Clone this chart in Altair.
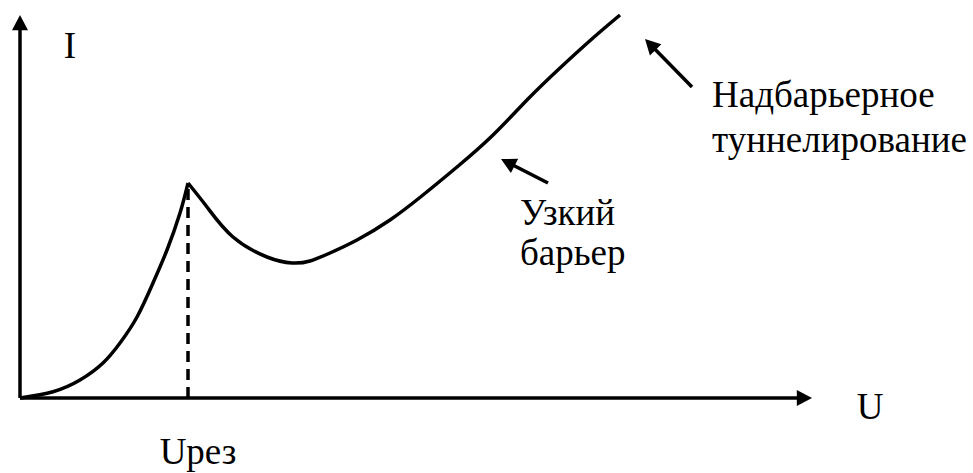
import math
import altair as alt
import pandas as pd

# Current–voltage characteristic (arbitrary units)
rise_u = [0.0, 0.33, 0.6, 0.83, 1.0, 1.17, 1.33, 1.47, 1.6, 1.68]
rise_i = [0.0, 0.063, 0.18, 0.35, 0.55, 0.81, 1.15, 1.48, 1.85, 2.15]
tail_u = [1.68, 1.87, 2.13, 2.47, 2.72, 2.9, 3.1, 3.37, 3.7, 4.03, 4.37, 4.72, 5.07, 5.4, 5.73, 6.0]
tail_i = [2.15, 1.91, 1.61, 1.41, 1.35, 1.37, 1.45, 1.58, 1.78, 2.03, 2.31, 2.62, 2.98, 3.3, 3.6, 3.83]

u_cut = 1.68          # Uрез
i_cut = 2.15

# Axis extents (arrow tips)
u_axis_end = 7.92
i_axis_end = 3.83

# Callout arrows: (tail_u, tail_i, tip_u, tip_i)
callouts = [
    (6.72, 3.11, 6.25, 3.59),   # надбарьерное туннелирование
    (5.28, 2.15, 4.81, 2.39),   # узкий барьер
]

# Text labels
label_text = ["I", "U", "Uрез", "Надбарьерное", "туннелирование", "Узкий", "барьер"]
label_u = [0.5, 8.5, 1.78, 6.92, 6.92, 5.0, 5.0]
label_i = [3.4, -0.21, -0.66, 2.91, 2.46, 1.73, 1.33]
label_align = ["center", "center", "center", "left", "left", "left", "left"]

FONT = "Times New Roman, Liberation Serif, serif"
X_DOMAIN = [-0.2, 9.53]
Y_DOMAIN = [-0.75, 3.98]

xs = alt.Scale(domain=X_DOMAIN, nice=False, zero=False)
ys = alt.Scale(domain=Y_DOMAIN, nice=False, zero=False)

curve = pd.DataFrame(
    {"u": rise_u + tail_u,
     "i": rise_i + tail_i,
     "branch": ["rise"] * len(rise_u) + ["tail"] * len(tail_u)}
)

# Arrows: axes plus callouts
arrows = [(0.0, 0.0, u_axis_end, 0.0), (0.0, 0.0, 0.0, i_axis_end)] + callouts
head_len = 0.14
seg_rows, head_rows = [], []
for tu, ti, hu, hi in arrows:
    du, di = hu - tu, hi - ti
    length = math.hypot(du, di)
    # stop the shaft under the arrowhead so the tip stays sharp
    eu = hu - du / length * head_len * 0.6
    ei = hi - di / length * head_len * 0.6
    seg_rows.append({"u": tu, "i": ti, "u2": eu, "i2": ei})
    head_rows.append({"u": hu, "i": hi, "angle": (math.degrees(math.atan2(du, di)) + 360) % 360})
segs = pd.DataFrame(seg_rows)
heads = pd.DataFrame(head_rows)

labels = pd.DataFrame({"text": label_text, "u": label_u, "i": label_i, "align": label_align})

line = alt.Chart(curve).mark_line(
    interpolate="natural", color="black", strokeWidth=3.5
).encode(
    x=alt.X("u:Q", scale=xs, axis=None),
    y=alt.Y("i:Q", scale=ys, axis=None),
    detail="branch:N",
)

shafts = alt.Chart(segs).mark_rule(color="black", strokeWidth=3.5).encode(
    x=alt.X("u:Q", scale=xs, axis=None),
    y=alt.Y("i:Q", scale=ys, axis=None),
    x2="u2:Q",
    y2="i2:Q",
)

arrow_heads = alt.Chart(heads).mark_point(
    shape="M0,0L-1,1.9L1,1.9Z", filled=True, color="black", opacity=1, size=256
).encode(
    x=alt.X("u:Q", scale=xs, axis=None),
    y=alt.Y("i:Q", scale=ys, axis=None),
    angle=alt.Angle("angle:Q", scale=None),
)

cut = alt.Chart(pd.DataFrame({"u": [u_cut], "i": [0.0], "i2": [i_cut]})).mark_rule(
    color="black", strokeWidth=3.5, strokeDash=[11, 7]
).encode(
    x=alt.X("u:Q", scale=xs, axis=None),
    y=alt.Y("i:Q", scale=ys, axis=None),
    y2="i2:Q",
)

def text_layer(align):
    return alt.Chart(labels[labels["align"] == align]).mark_text(
        font=FONT, fontSize=37, color="black", align=align, baseline="alphabetic"
    ).encode(
        x=alt.X("u:Q", scale=xs, axis=None),
        y=alt.Y("i:Q", scale=ys, axis=None),
        text="text:N",
    )

chart = alt.layer(
    cut, line, shafts, arrow_heads, text_layer("center"), text_layer("left")
).properties(
    width=973, height=473, padding=0, autosize=alt.AutoSizeParams(type="none")
).configure(background="white", view=alt.ViewConfig(stroke=None))

chart.save("out.html", embed_options={"renderer": "svg", "actions": False})
